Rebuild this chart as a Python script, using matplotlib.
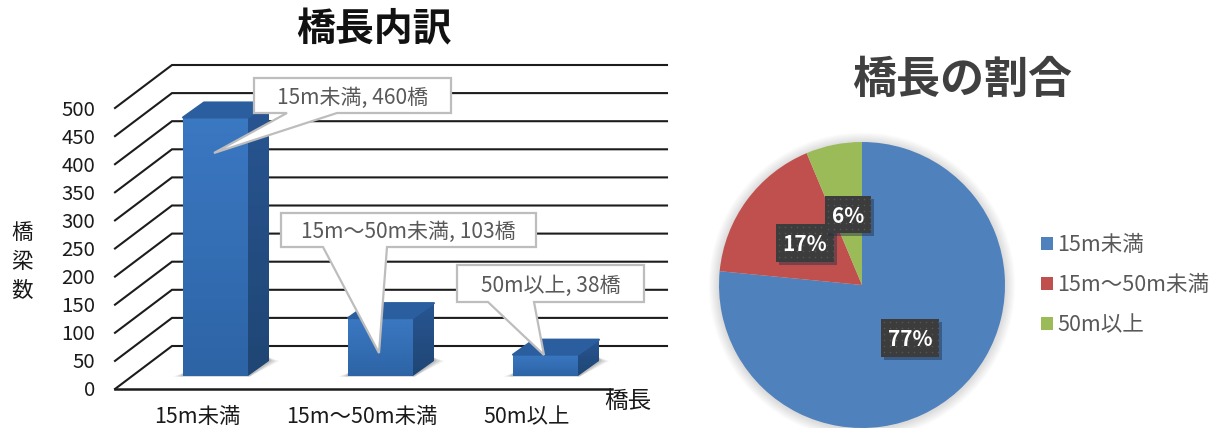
import numpy as np
import matplotlib
matplotlib.use('Agg')
import matplotlib.pyplot as plt
from matplotlib.patches import Polygon, Rectangle, Circle

plt.rcParams['font.family'] = ['Noto Sans CJK JP', 'DejaVu Sans']

# data
categories = ['15m未満', '15m～50m未満', '50m以上']
bridge_counts = [460, 103, 38]
y_ticks = [0, 50, 100, 150, 200, 250, 300, 350, 400, 450, 500]

W, H = 1219, 428
PX_PER_VALUE = 0.562
PX_PER_CAT = 165.0
BAR_W = 65 / PX_PER_CAT
DEPTH_X = 21 / PX_PER_CAT
DEPTH_Y = 15 / PX_PER_VALUE
BASE_Y = 13 / PX_PER_VALUE
GRID_DX = 57 / PX_PER_CAT
GRID_DY = 43 / PX_PER_VALUE

fig = plt.figure(figsize=(W / 100, H / 100), dpi=100)

# bar chart axes: x in category units, y in bridge counts
ax = fig.add_axes([0, 0, 1, 1])
xlim = ((0 - 215.5) / PX_PER_CAT, (W - 215.5) / PX_PER_CAT)
ylim = ((389 - H) / PX_PER_VALUE, 389 / PX_PER_VALUE)
ax.axis('off')

x_left = (115 - 215.5) / PX_PER_CAT
x_right = (667 - 215.5) / PX_PER_CAT
x_floor = (612 - 215.5) / PX_PER_CAT
for v in y_ticks:
    ax.plot([x_left, x_left + GRID_DX, x_right], [v, v + GRID_DY, v + GRID_DY],
            color='#1c1c1c', lw=1.5, solid_joinstyle='miter', zorder=1)
ax.plot([x_left, x_floor], [0, 0], color='#1c1c1c', lw=1.8, zorder=1)

front_grad = np.linspace(0, 1, 64).reshape(-1, 1)
front_cmap = matplotlib.colors.LinearSegmentedColormap.from_list('front', ['#3b78c2', '#2d64a6'])
side_cmap = matplotlib.colors.LinearSegmentedColormap.from_list('side', ['#285592', '#1f4674'])

for i, val in enumerate(bridge_counts):
    l, r = i - BAR_W / 2, i + BAR_W / 2
    b, t = BASE_Y, BASE_Y + val

    # soft floor shadow
    for k, a in zip([1.0, 0.65, 0.3], [0.10, 0.14, 0.18]):
        ax.add_patch(Polygon([(l - 0.06 * k, b - 1), (r + 0.01, b - 1), (r + DEPTH_X + 0.06 * k, b + DEPTH_Y),
                              (r + DEPTH_X, b + DEPTH_Y + 6), (l, b + 5)],
                             closed=True, fc='#555555', ec='none', alpha=a, zorder=2))

    front = ax.imshow(front_grad, extent=(l, r, b, t), cmap=front_cmap, aspect='auto', zorder=4)
    front.set_clip_path(Rectangle((l, b), r - l, t - b, transform=ax.transData))
    side = ax.imshow(front_grad, extent=(r, r + DEPTH_X, b, t + DEPTH_Y), cmap=side_cmap, aspect='auto', zorder=3)
    side.set_clip_path(Polygon([(r, b), (r + DEPTH_X, b + DEPTH_Y), (r + DEPTH_X, t + DEPTH_Y), (r, t)],
                               closed=True, transform=ax.transData))
    ax.add_patch(Polygon([(l, t), (l + DEPTH_X, t + DEPTH_Y), (r + DEPTH_X, t + DEPTH_Y), (r, t)],
                         closed=True, fc='#2b5e9f', ec='#2b5e9f', lw=1.5, joinstyle='round', zorder=4))
ax.set_xlim(xlim)
ax.set_ylim(ylim)

# pie axes
pie_ax = fig.add_axes([(862 - 143) / W, 1 - (285 + 143) / H, 286 / W, 286 / H])
for k in range(12):
    pie_ax.add_patch(Circle((0, -0.005), 1 + 0.006 * (12 - k), fc='#000000', ec='none', alpha=0.010, clip_on=False))
wedges, _ = pie_ax.pie(bridge_counts, colors=['#4f81bd', '#c0504d', '#9bbb59'], startangle=90, counterclock=False,
                       radius=1.0)
for w in wedges:
    w.set_clip_on(False)
pie_ax.set_xlim(-1, 1)
pie_ax.set_ylim(-1, 1)

# overlay in pixel coords for labels and callouts
ov = fig.add_axes([0, 0, 1, 1])
ov.set_xlim(0, W)
ov.set_ylim(H, 0)
ov.axis('off')
ov.patch.set_alpha(0)

TEXT_BLACK = '#1a1a1a'
GRAY = '#595959'

ov.text(374, 30, '橋長内訳', fontsize=28, fontweight='bold', color='#111111', ha='center', va='center')
ov.text(962, 80, '橋長の割合', fontsize=31.7, fontweight='bold', color='#404040', ha='center', va='center')

for v in y_ticks:
    ov.text(95, 391 - v * PX_PER_VALUE, str(v), fontsize=14.7, color=TEXT_BLACK, ha='right', va='center')
x_label_centers = [197.5, 362, 526.5]
for cx, cat in zip(x_label_centers, categories):
    ov.text(cx, 417, cat, fontsize=15.4, color=TEXT_BLACK, ha='center', va='center')
ov.text(628, 402, '橋長', fontsize=17, color=TEXT_BLACK, ha='center', va='center')
for ch, y in zip('橋梁数', [233, 262, 291]):
    ov.text(22, y, ch, fontsize=15.5, color=TEXT_BLACK, ha='center', va='center')

# callouts: box left, top, right, bottom, tail start, tail end, tip
callouts = [
    (254, 78, 451, 113, 287, 337, (214, 153)),
    (281, 213, 536, 247, 323, 387, (379, 353)),
    (457, 265, 644, 302, 488, 534, (544, 355)),
]
for (x0, y0, x1, y1, t0, t1, tip), cat, val in zip(callouts, categories, bridge_counts):
    ov.add_patch(Polygon([(x0, y0), (x1, y0), (x1, y1), (t1, y1), tip, (t0, y1), (x0, y1)], closed=True,
                         fc='white', ec='#bdbdbd', lw=1.6, joinstyle='miter', zorder=5))
    ov.text((x0 + x1) / 2, (y0 + y1) / 2 + 2, f'{cat}, {val}橋', fontsize=15.1, color=GRAY,
            ha='center', va='center', zorder=6)

# pie percent labels
total = sum(bridge_counts)
boxes = [(881, 319, 58, 38), (776, 224, 58, 38), (825, 196, 46, 37)]
for z_i, ((x, y, w, h), val) in enumerate(zip(boxes, bridge_counts)):
    z = 7 + z_i
    ov.add_patch(Rectangle((x + 3, y + 3), w, h, fc='#1f2f45', ec='none', alpha=0.45, zorder=z))
    ov.add_patch(Rectangle((x, y), w, h, fc='#3c3c3c', ec='none', zorder=z))
    dx = np.arange(x + 3, x + w, 6)
    dy = np.arange(y + 3, y + h, 6)
    gx, gy = np.meshgrid(dx, dy)
    ov.scatter(gx.ravel(), gy.ravel(), s=1.2, c='#565656', linewidths=0, zorder=z)
    ov.text(x + w / 2, y + h / 2 + 1.5, f'{round(val / total * 100)}%', fontsize=15, fontweight='bold', color='white',
            ha='center', va='center', zorder=z)

ov.legend(wedges, categories, loc='center left', bbox_to_anchor=(1021.6 / W, 1 - 285 / H), bbox_transform=fig.transFigure,
          frameon=False, labelcolor=GRAY, prop={'size': 15.5}, handlelength=0.56, handleheight=0.56,
          labelspacing=0.84, handletextpad=0.2)

plt.savefig('out.png', dpi=100)
